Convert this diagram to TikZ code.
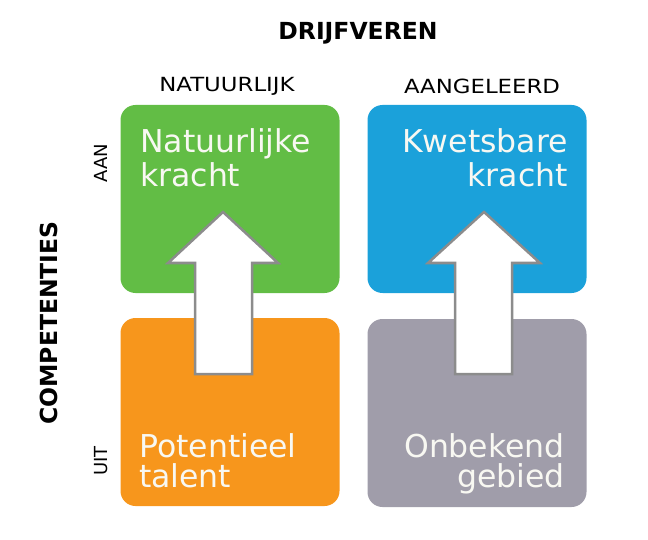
\documentclass[tikz,border=0pt]{standalone}
\usepackage{fontspec}
\setmainfont{DejaVu Sans}
\newfontfamily\widefont[FakeStretch=1.17]{DejaVu Sans}
\usetikzlibrary{positioning}
\definecolor{kgreen}{HTML}{62BD45}
\definecolor{kblue}{HTML}{1BA1DA}
\definecolor{korange}{HTML}{F7961C}
\definecolor{kgray}{HTML}{A09DAA}
\definecolor{kedge}{HTML}{8C8C8C}
\definecolor{ktext}{HTML}{F8F8F2}
\begin{document}
\begin{tikzpicture}[x=1pt, y=-1pt]
				\tikzstyle{Box} = [rectangle, rounded corners=15pt, minimum width=219pt, minimum height=188pt, draw=none]
				\tikzstyle{Title} = [font=\fontsize{31.5}{34}\selectfont, text=ktext, inner sep=0pt]
				\tikzstyle{LowTitle} = [Title, font=\fontsize{31.5}{30}\selectfont]
				\tikzstyle{Head} = [font=\widefont\fontsize{19.5}{22}\selectfont, inner sep=0pt]
				\tikzstyle{Side} = [font=\fontsize{18}{20}\selectfont, inner sep=0pt, rotate=90]
				\tikzstyle{Bold} = [font=\fontsize{23.5}{26}\selectfont\bfseries, inner sep=0pt]
				\tikzstyle{Big} = [draw=kedge, line width=2.5pt, fill=white, line join=miter]
				
				\useasboundingbox (0,0) rectangle (648,540);
				\node (nk) [Box, fill=kgreen] at (230,199) {};
				\node (kk) [Box, fill=kblue] at (477,199) {};
				\node (pt) [Box, fill=korange] at (230,412) {};
				\node (og) [Box, fill=kgray] at (477,413) {};
				\node (nkt) [Title, anchor=base west, align=left] at (140,187) {Natuurlijke\\kracht};
				\node (kkt) [Title, anchor=base east, align=right] at (568,187) {Kwetsbare\\kracht};
				\node (ptt) [LowTitle, anchor=base west, align=left] at (139,487) {Potentieel\\talent};
				\node (ogt) [LowTitle, anchor=base east, align=right] at (565,487) {Onbekend\\gebied};
				\draw [Big] (195,374) -- (195,263) -- (168,263) -- (223,212) -- (278,263) -- (252,263) -- (252,374) -- cycle;
				\draw [Big] (455,374) -- (455,263) -- (428,263) -- (484,212) -- (540,263) -- (512,263) -- (512,374) -- cycle;
				\node (dv) [Bold] at (358,33) {DRIJFVEREN};
				\node (nat) [Head] at (227,86) {NATUURLIJK};
				\node (aan) [Head] at (482,86) {AANGELEERD};
				\node (on) [Side] at (101,163) {AAN};
				\node (uit) [Side] at (101,461) {UIT};
				\node (comp) [Bold, rotate=90] at (49,323) {COMPETENTIES};
			\end{tikzpicture}
\end{document}
